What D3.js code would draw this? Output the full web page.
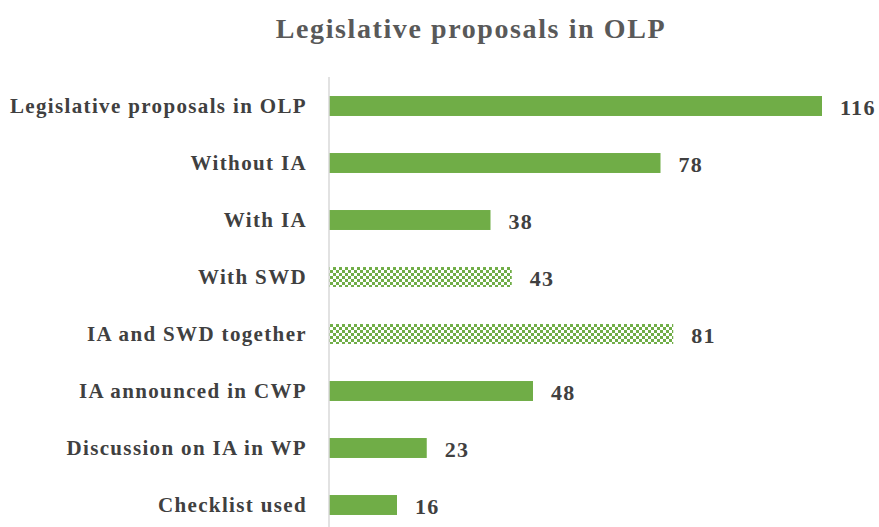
<!DOCTYPE html>
<html lang="en">
<head>
<meta charset="UTF-8">
<title>Legislative proposals in OLP</title>
<style>
    body { margin: 0; background: #fff; }
    #grafico { display: block; }
    .rotulo { font-family: "Liberation Serif", "Times New Roman", serif; font-weight: bold; font-size: 21px; letter-spacing: 1.35px; fill: #404040; text-anchor: end; }
    .valor { font-family: "Liberation Serif", "Times New Roman", serif; font-weight: bold; font-size: 22px; letter-spacing: 1.3px; fill: #404040; }
    .titulo { font-family: "Liberation Serif", "Times New Roman", serif; font-weight: bold; font-size: 28px; letter-spacing: 1.6px; fill: #595959; text-anchor: middle; }
</style>
<script src="https://d3js.org/d3.v7.min.js"></script>
</head>
<body>
<svg id="grafico" width="879" height="527"></svg>
<script>
    let categorias = ['Legislative proposals in OLP', 'Without IA', 'With IA', 'With SWD',
        'IA and SWD together', 'IA announced in CWP', 'Discussion on IA in WP', 'Checklist used'];
    let valores = [116, 78, 38, 43, 81, 48, 23, 16];
    let xadrez = [false, false, false, true, true, false, false, false];

    let svg = d3.select('#grafico');

    // checkered fill
    let pat = svg.append('defs').append('pattern')
        .attr('id', 'xadrez').attr('width', 6).attr('height', 6)
        .attr('patternUnits', 'userSpaceOnUse');
    pat.append('rect').attr('width', 6).attr('height', 6).attr('fill', '#fff');
    pat.append('rect').attr('width', 3).attr('height', 3).attr('fill', '#70ad47');
    pat.append('rect').attr('x', 3).attr('y', 3).attr('width', 3).attr('height', 3).attr('fill', '#70ad47');

    let x0 = 329;
    let fnX = d3.scaleLinear().domain([0, 116]).range([x0, 822]);
    let fnY = d3.scaleBand().domain(categorias).range([77.5, 533.5])
        .paddingInner(0.65).paddingOuter(0.325);

    svg.append('text').classed('titulo', true)
        .attr('x', 471).attr('y', 38).text('Legislative proposals in OLP');

    svg.selectAll('.barra')
        .data(valores)
        .enter()
        .append('rect')
        .classed('barra', true)
        .attr('x', x0)
        .attr('y', (d, i) => fnY(categorias[i]))
        .attr('width', d => fnX(d) - x0)
        .attr('height', fnY.bandwidth())
        .attr('fill', (d, i) => xadrez[i] ? 'url(#xadrez)' : '#70ad47');

    svg.append('line')
        .attr('x1', x0).attr('x2', x0)
        .attr('y1', 77).attr('y2', 527)
        .attr('stroke', '#d9d9d9').attr('stroke-width', 1.5);

    svg.selectAll('.rotulo')
        .data(categorias)
        .enter()
        .append('text')
        .classed('rotulo', true)
        .attr('x', 307)
        .attr('y', d => fnY(d) + fnY.bandwidth() / 2)
        .attr('dy', '0.35em')
        .text(d => d);

    svg.selectAll('.valor')
        .data(valores)
        .enter()
        .append('text')
        .classed('valor', true)
        .attr('x', d => fnX(d) + 18)
        .attr('y', (d, i) => fnY(categorias[i]) + fnY.bandwidth() / 2)
        .attr('dy', '0.4em')
        .text(d => d);
</script>
</body>
</html>
